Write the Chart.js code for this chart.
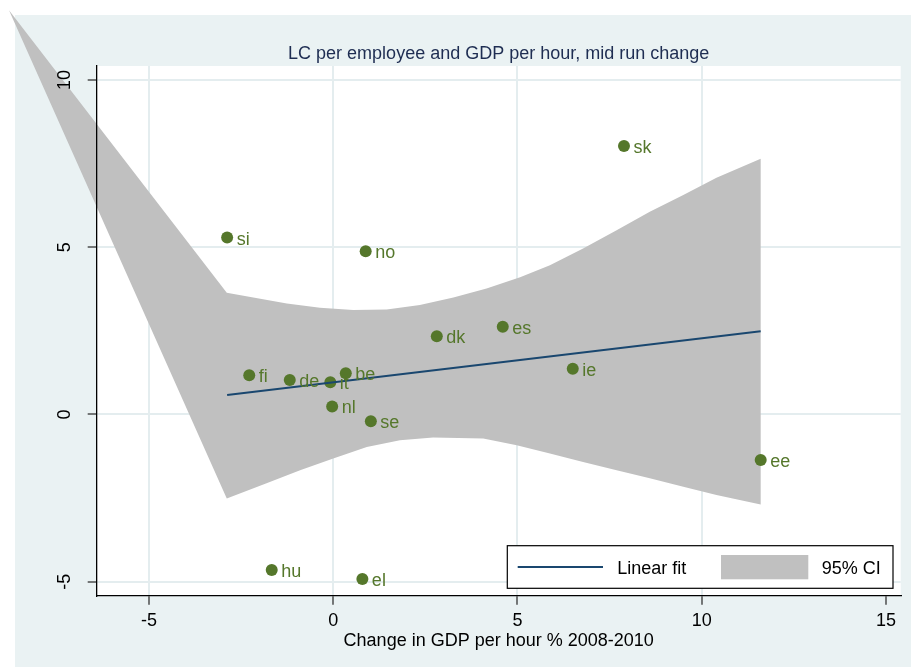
<!DOCTYPE html>
<html>
<head>
<meta charset="utf-8">
<title>LC per employee and GDP per hour</title>
<script src="https://cdn.jsdelivr.net/npm/chart.js@4.4.0/dist/chart.umd.min.js"></script>
<style>
  html, body { margin: 0; padding: 0; background: #fff; }
  #wrap { width: 911px; height: 668px; position: relative; }
</style>
</head>
<body>
<div id="wrap"><canvas id="chart"></canvas></div>
<script>
// country labels and values (change 2008-2010, %)
const countries = ['si', 'no', 'sk', 'es', 'dk', 'fi', 'de', 'it', 'be', 'nl', 'se', 'hu', 'el', 'ie', 'ee'];
const gdpPerHour = [-2.88, 0.88, 7.89, 4.60, 2.81, -2.28, -1.18, -0.08, 0.34, -0.03, 1.02, -1.67, 0.79, 6.50, 11.60];
const lcPerEmployee = [5.29, 4.88, 8.03, 2.62, 2.34, 1.17, 1.03, 0.96, 1.23, 0.24, -0.20, -4.65, -4.92, 1.37, -1.36];

// linear fit end points
const fitX = [-2.88, 11.60];
const fitY = [0.58, 2.49];

// 95% CI band edges (first point is where both edges meet, off the plot)
const ciUpperX = [-8.80, -2.89, -2.17, -1.26, -0.36, 0.54, 1.45, 2.35, 3.26, 4.16, 5.07, 5.88, 6.78, 7.69, 8.59, 9.50, 10.40, 11.60];
const ciUpperY = [12.09, 3.64, 3.50, 3.32, 3.19, 3.12, 3.14, 3.27, 3.50, 3.77, 4.10, 4.46, 4.96, 5.51, 6.06, 6.56, 7.08, 7.65];
const ciLowerX = [-8.80, -2.89, -1.81, -0.90, 0, 0.91, 1.81, 2.71, 4.07, 4.98, 5.88, 6.78, 7.69, 8.59, 9.50, 10.40, 11.60];
const ciLowerY = [12.09, -2.51, -2.06, -1.67, -1.32, -0.97, -0.77, -0.69, -0.72, -0.92, -1.17, -1.42, -1.67, -1.91, -2.16, -2.41, -2.69];

// axes
const xTicks = [-5, 0, 5, 10, 15];
const yTicks = [-5, 0, 5, 10];
const xRange = [-6.42, 15.40];
const yRange = [-5.42, 10.42];

const FONT = "'Liberation Sans', Arial, sans-serif";
const outerBg = '#EAF2F3';
const gridColor = '#E4EDEF';
const green = '#55772B';
const navy = '#1A476F';
const bandGray = '#C0C0C0';

const points = gdpPerHour.map((x, i) => ({ x, y: lcPerEmployee[i] }));
const fitLine = fitX.map((x, i) => ({ x, y: fitY[i] }));
const band = ciUpperX.map((x, i) => ({ x, y: ciUpperY[i] }))
  .concat(ciLowerX.map((x, i) => ({ x, y: ciLowerY[i] })).reverse());

// backgrounds: white page, bluish graph region, white plot region
const backdrop = {
  id: 'backdrop',
  beforeDraw(chart) {
    const { ctx, chartArea: a } = chart;
    ctx.save();
    ctx.fillStyle = '#fff';
    ctx.fillRect(0, 0, chart.width, chart.height);
    ctx.fillStyle = outerBg;
    ctx.fillRect(15, 15, chart.width - 15, chart.height - 16);
    ctx.fillStyle = '#fff';
    ctx.fillRect(a.left, a.top, a.right - a.left, a.bottom - a.top);
    ctx.restore();
  }
};

// CI band is filled from the dataset's own points, not clipped to the plot
const bandFill = {
  id: 'bandFill',
  beforeDatasetsDraw(chart) {
    const meta = chart.getDatasetMeta(0);
    const ctx = chart.ctx;
    ctx.save();
    ctx.beginPath();
    meta.data.forEach((p, i) => i ? ctx.lineTo(p.x, p.y) : ctx.moveTo(p.x, p.y));
    ctx.closePath();
    ctx.fillStyle = bandGray;
    ctx.fill();
    ctx.restore();
  }
};

// country labels next to the markers, title, legend
const extras = {
  id: 'extras',
  afterDatasetsDraw(chart) {
    const ctx = chart.ctx;
    const meta = chart.getDatasetMeta(2);
    ctx.save();
    ctx.font = '18px ' + FONT;
    ctx.fillStyle = green;
    ctx.textBaseline = 'alphabetic';
    meta.data.forEach((p, i) => ctx.fillText(countries[i], p.x + 9.5, p.y + 7));
    ctx.restore();
  },
  afterDraw(chart) {
    const { ctx, chartArea: a } = chart;
    ctx.save();
    ctx.font = '18px ' + FONT;
    ctx.textBaseline = 'alphabetic';
    ctx.textAlign = 'center';
    ctx.fillStyle = '#1E2D52';
    ctx.fillText('LC per employee and GDP per hour, mid run change', (a.left + a.right) / 2, 59);

    // legend box in lower right of the plot
    const r = a.right - 7.7, b = a.bottom - 7.4;
    const l = r - 385.7, t = b - 42.6;
    ctx.fillStyle = '#fff';
    ctx.fillRect(l, t, r - l, b - t);
    ctx.strokeStyle = '#000';
    ctx.lineWidth = 1.2;
    ctx.strokeRect(l, t, r - l, b - t);
    const my = t + 21.3;
    ctx.strokeStyle = navy;
    ctx.lineWidth = 2;
    ctx.beginPath();
    ctx.moveTo(l + 10.4, my);
    ctx.lineTo(l + 95.7, my);
    ctx.stroke();
    ctx.fillStyle = bandGray;
    ctx.fillRect(l + 213.7, my - 12, 87.3, 24.3);
    ctx.fillStyle = '#000';
    ctx.textAlign = 'left';
    ctx.fillText('Linear fit', l + 110, my + 7);
    ctx.fillText('95% CI', l + 314.4, my + 7);
    ctx.restore();
  }
};

new Chart(document.getElementById('chart'), {
  type: 'scatter',
  data: {
    datasets: [
      {
        label: '95% CI',
        data: band,
        showLine: false,
        pointRadius: 0,
        pointHoverRadius: 0,
        clip: false
      },
      {
        label: 'Linear fit',
        type: 'line',
        data: fitLine,
        borderColor: navy,
        borderWidth: 2,
        pointRadius: 0,
        fill: false
      },
      {
        label: 'countries',
        data: points,
        backgroundColor: green,
        borderColor: green,
        pointRadius: 6,
        pointBorderWidth: 0
      }
    ]
  },
  options: {
    responsive: true,
    maintainAspectRatio: false,
    animation: false,
    layout: { padding: { top: 66, right: 10.3, left: 0, bottom: 0 } },
    plugins: {
      legend: { display: false },
      title: { display: false },
      tooltip: { enabled: false }
    },
    scales: {
      x: {
        type: 'linear',
        min: xRange[0],
        max: xRange[1],
        afterBuildTicks: s => { s.ticks = xTicks.map(v => ({ value: v })); },
        afterFit: s => { s.height = 72.3; },
        grid: {
          color: c => (c.tick && c.tick.value === 15 ? 'rgba(0,0,0,0)' : gridColor),
          lineWidth: 2,
          tickLength: 9,
          tickColor: '#333',
          tickWidth: 1.3
        },
        border: { display: true, color: '#000', width: 1.3, z: 1 },
        ticks: {
          z: 1,
          padding: 6,
          color: '#000',
          font: { family: FONT, size: 18 },
          callback: v => String(v)
        },
        title: {
          display: true,
          text: 'Change in GDP per hour % 2008-2010',
          color: '#000',
          font: { family: FONT, size: 18 },
          padding: { top: 0, bottom: 16 }
        }
      },
      y: {
        type: 'linear',
        min: yRange[0],
        max: yRange[1],
        afterBuildTicks: s => { s.ticks = yTicks.map(v => ({ value: v })); },
        afterFit: s => { s.width = 96.7; },
        grid: {
          color: gridColor,
          lineWidth: 2,
          tickLength: 9,
          tickColor: '#333',
          tickWidth: 1.3
        },
        border: { display: true, color: '#000', width: 1.3, z: 1 },
        ticks: {
          z: 1,
          minRotation: 90,
          maxRotation: 90,
          crossAlign: 'center',
          padding: 13,
          color: '#000',
          font: { family: FONT, size: 18 },
          callback: v => String(v)
        }
      }
    }
  },
  plugins: [backdrop, bandFill, extras]
});
</script>
</body>
</html>
